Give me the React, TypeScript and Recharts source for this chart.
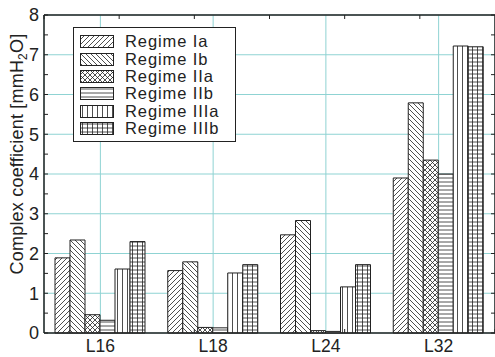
import { BarChart, Bar, XAxis, YAxis, CartesianGrid, Legend, Label } from 'recharts';

const categories = ['L16', 'L18', 'L24', 'L32'];
const regimeIa = [1.89, 1.57, 2.47, 3.9];
const regimeIb = [2.34, 1.79, 2.83, 5.79];
const regimeIIa = [0.46, 0.14, 0.06, 4.35];
const regimeIIb = [0.32, 0.13, 0.04, 4.0];
const regimeIIIa = [1.61, 1.51, 1.16, 7.22];
const regimeIIIb = [2.3, 1.72, 1.72, 7.2];

const yTicks = [0, 1, 2, 3, 4, 5, 6, 7, 8];
const yMinorTicks = [0, 0.5, 1, 1.5, 2, 2.5, 3, 3.5, 4, 4.5, 5, 5.5, 6, 6.5, 7, 7.5, 8];
const topTicks = [0, 0.5, 1, 1.5, 2, 2.5, 3, 3.5, 4];
const bottomTicks = [1, 2, 3];

const series = [
  { key: 'ia', name: 'Regime Ia', values: regimeIa, pattern: 'pat-ia' },
  { key: 'ib', name: 'Regime Ib', values: regimeIb, pattern: 'pat-ib' },
  { key: 'iia', name: 'Regime IIa', values: regimeIIa, pattern: 'pat-iia' },
  { key: 'iib', name: 'Regime IIb', values: regimeIIb, pattern: 'pat-iib' },
  { key: 'iiia', name: 'Regime IIIa', values: regimeIIIa, pattern: 'pat-iiia' },
  { key: 'iiib', name: 'Regime IIIb', values: regimeIIIb, pattern: 'pat-iiib' },
];

const data = categories.map((name, i) => {
  const row: Record<string, string | number> = { name };
  series.forEach((s) => {
    row[s.key] = s.values[i];
  });
  return row;
});

const INK = '#222222';
const GRID = '#8fd3d3';
const FONT = '"Liberation Sans", Arial, sans-serif';
const blank = () => '';

function Patterns() {
  const line = { stroke: INK, strokeWidth: 0.8 };
  return (
    <defs>
      <pattern id="pat-ia" patternUnits="userSpaceOnUse" width={5} height={5}>
        <rect width={5} height={5} fill="#fff" />
        <path d="M0,5 L5,0 M-1,1 L1,-1 M4,6 L6,4" {...line} />
      </pattern>
      <pattern id="pat-ib" patternUnits="userSpaceOnUse" width={5} height={5}>
        <rect width={5} height={5} fill="#fff" />
        <path d="M0,0 L5,5 M4,-1 L6,1 M-1,4 L1,6" {...line} />
      </pattern>
      <pattern id="pat-iia" patternUnits="userSpaceOnUse" width={5} height={5}>
        <rect width={5} height={5} fill="#fff" />
        <path d="M0,5 L5,0 M-1,1 L1,-1 M4,6 L6,4 M0,0 L5,5 M4,-1 L6,1 M-1,4 L1,6" {...line} />
      </pattern>
      <pattern id="pat-iib" patternUnits="userSpaceOnUse" width={4} height={4}>
        <rect width={4} height={4} fill="#fff" />
        <path d="M0,2 L4,2" {...line} />
      </pattern>
      <pattern id="pat-iiia" patternUnits="userSpaceOnUse" width={5} height={5}>
        <rect width={5} height={5} fill="#fff" />
        <path d="M2.5,0 L2.5,5" {...line} />
      </pattern>
      <pattern id="pat-iiib" patternUnits="userSpaceOnUse" width={5} height={4}>
        <rect width={5} height={4} fill="#fff" />
        <path d="M2.5,0 L2.5,4 M0,2 L5,2" {...line} />
      </pattern>
    </defs>
  );
}

function LegendBox() {
  return (
    <div
      style={{
        border: `1px solid ${INK}`,
        background: '#fff',
        width: 163,
        height: 115,
        padding: '5px 0 0 6px',
        boxSizing: 'border-box',
        fontFamily: FONT,
      }}
    >
      {series.map((s) => (
        <div key={s.key} style={{ display: 'flex', alignItems: 'center', height: 17.4 }}>
          <svg width={34} height={13} style={{ display: 'block' }}>
            <rect x={0.5} y={0.5} width={33} height={12} fill={`url(#${s.pattern})`} stroke={INK} />
          </svg>
          <span
            style={{
              display: 'inline-block',
              marginLeft: 11,
              fontSize: 16.5,
              letterSpacing: 0.9,
              lineHeight: '17px',
              height: 17,
              color: INK,
            }}
          >
            {s.name}
          </span>
        </div>
      ))}
    </div>
  );
}

function YTitle() {
  const x = 23;
  const y = 154;
  return (
    <text
      x={x}
      y={y}
      transform={`rotate(-90 ${x} ${y})`}
      textAnchor="middle"
      fontSize={18}
      letterSpacing={0.2}
      fontFamily={FONT}
      fill={INK}
    >
      Complex coefficient [mmH
      <tspan fontSize={12} dy={4}>2</tspan>
      <tspan dy={-4}>O]</tspan>
    </text>
  );
}

export default function App() {
  return (
    <div style={{ position: 'absolute', left: 0, top: 0, width: 495, height: 357, background: '#fff', fontFamily: FONT }}>
      <BarChart
        width={495}
        height={357}
        data={data}
        margin={{ top: 15, right: 0, left: 0, bottom: 0 }}
        barGap={0}
        barSize={15}
      >
        <Patterns />
        <CartesianGrid stroke={GRID} strokeWidth={1} />
        <XAxis
          dataKey="name"
          height={24}
          tickLine={false}
          tickSize={0}
          tickMargin={7}
          axisLine={{ stroke: INK, strokeWidth: 1.5 }}
          tick={{ fill: INK, fontSize: 17.5, fontFamily: FONT }}
        />
        <XAxis
          xAxisId="top"
          type="number"
          orientation="top"
          mirror
          domain={[0, 4]}
          ticks={topTicks}
          allowDataOverflow
          tickSize={4}
          tickFormatter={blank}
          axisLine={{ stroke: INK, strokeWidth: 1.5 }}
          tickLine={{ stroke: INK }}
        />
        <XAxis
          xAxisId="bottomMinor"
          type="number"
          orientation="bottom"
          mirror
          domain={[0, 4]}
          ticks={bottomTicks}
          allowDataOverflow
          tickSize={4}
          tickFormatter={blank}
          axisLine={false}
          tickLine={{ stroke: INK }}
        />
        <YAxis
          width={44}
          domain={[0, 8]}
          ticks={yTicks}
          tickLine={false}
          tickSize={0}
          tickMargin={5}
          axisLine={{ stroke: INK, strokeWidth: 1.5 }}
          tick={{ fill: INK, fontSize: 18, fontFamily: FONT }}
        >
          <Label content={<YTitle />} />
        </YAxis>
        <YAxis
          yAxisId="leftMinor"
          mirror
          domain={[0, 8]}
          ticks={yMinorTicks}
          allowDataOverflow
          tickSize={4}
          tickFormatter={blank}
          axisLine={false}
          tickLine={{ stroke: INK }}
        />
        <YAxis
          yAxisId="rightMinor"
          orientation="right"
          mirror
          domain={[0, 8]}
          ticks={yMinorTicks}
          allowDataOverflow
          tickSize={4}
          tickFormatter={blank}
          axisLine={{ stroke: INK, strokeWidth: 1.5 }}
          tickLine={{ stroke: INK }}
        />
        <Legend
          layout="vertical"
          align="center"
          verticalAlign="middle"
          content={<LegendBox />}
          wrapperStyle={{ position: 'absolute', left: 73, top: 27, width: 'auto' }}
        />
        {series.map((s) => (
          <Bar
            key={s.key}
            dataKey={s.key}
            name={s.name}
            fill={`url(#${s.pattern})`}
            stroke={INK}
            strokeWidth={1}
            isAnimationActive={false}
          />
        ))}
      </BarChart>
    </div>
  );
}
